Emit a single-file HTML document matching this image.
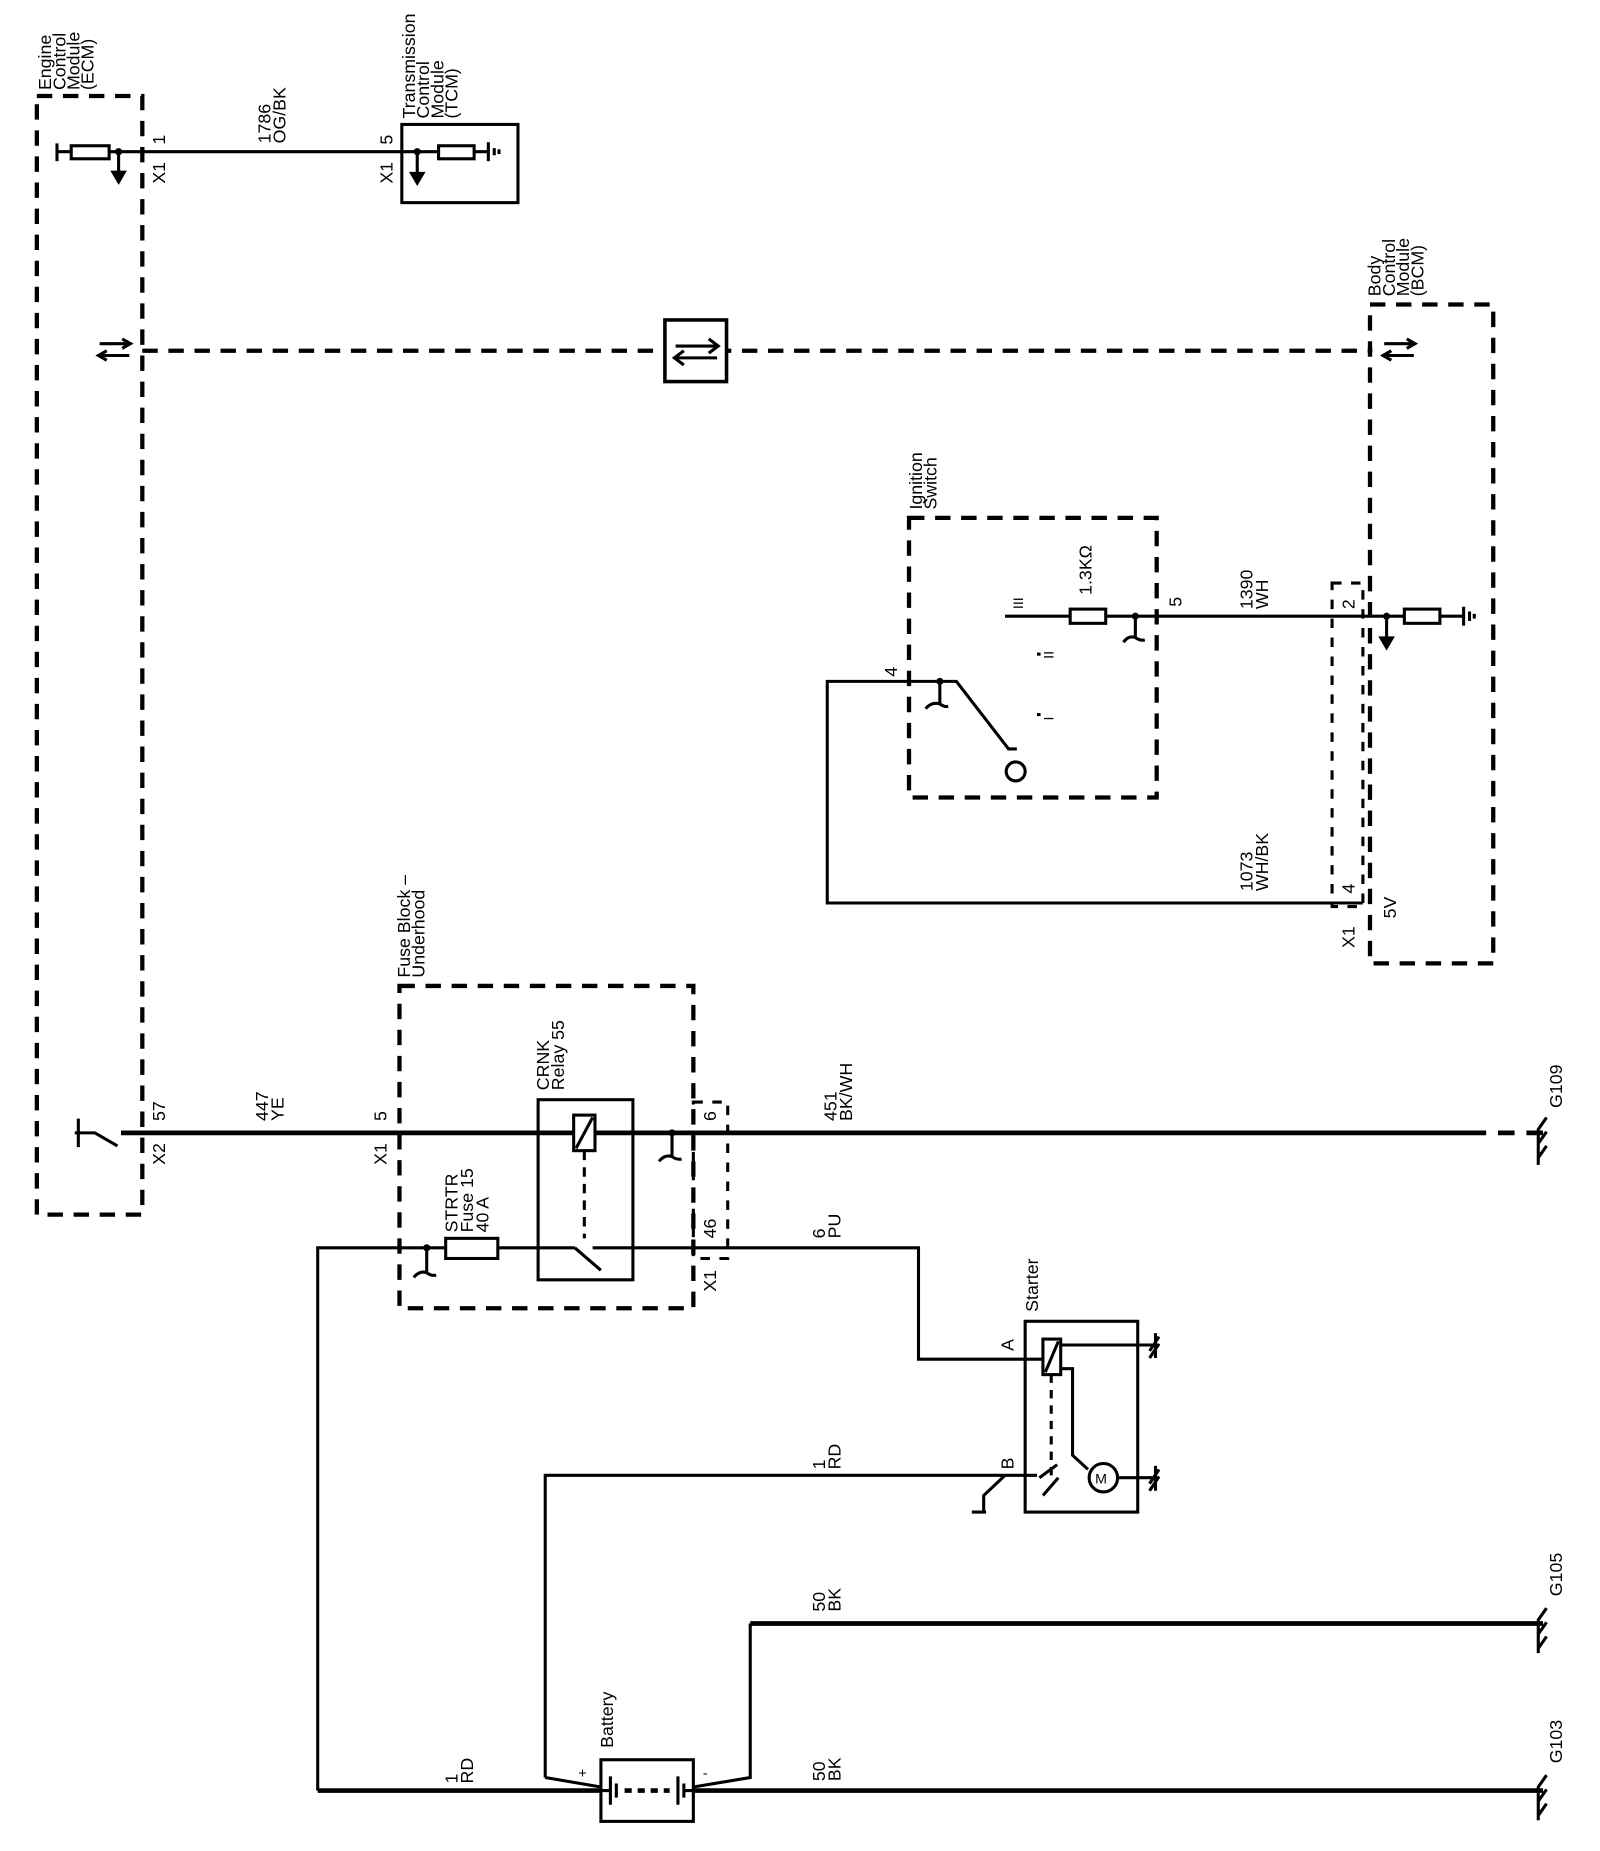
<!DOCTYPE html>
<html><head><meta charset="utf-8"><style>
html,body{margin:0;padding:0;background:#fff;}
svg{display:block;}
text{font-family:"Liberation Sans",Arial,sans-serif;font-size:15px;fill:#000;}
.w{stroke:#000;stroke-width:2.6;fill:none;}
.t{stroke:#000;stroke-width:4;fill:none;}
.d{stroke:#000;stroke-width:3.6;fill:none;stroke-dasharray:13 9;}
.ds{stroke:#000;stroke-width:2.6;fill:none;stroke-dasharray:8 8;}
.b{stroke:#000;stroke-width:2.6;fill:#fff;}
</style></head><body>
<svg width="1600" height="1851" viewBox="0 0 1350 1562" xmlns="http://www.w3.org/2000/svg">
<!-- ECM -->
<rect x="31" y="81" width="89" height="944" class="d"/>
<g>
<text transform="translate(43,76) rotate(-90)">Engine</text>
<text transform="translate(55,76) rotate(-90)">Control</text>
<text transform="translate(67,76) rotate(-90)">Module</text>
<text transform="translate(79,76) rotate(-90)">(ECM)</text>
</g>
<line x1="48" y1="128" x2="340" y2="128" class="w"/>
<line x1="48" y1="121" x2="48" y2="136" class="w"/>
<rect x="60" y="123" width="32" height="11" class="b"/>
<circle cx="100" cy="128" r="3"/>
<line x1="100" y1="128" x2="100" y2="145" class="w"/>
<polygon points="93,144 107,144 100,156"/>
<text transform="translate(139,122) rotate(-90)">1</text>
<text transform="translate(139,155) rotate(-90)">X1</text>
<text transform="translate(228,121) rotate(-90)">1786</text>
<text transform="translate(241,121) rotate(-90)">OG/BK</text>
<!-- TCM -->
<rect x="339" y="105" width="98" height="66" class="w"/>
<text transform="translate(350,100) rotate(-90)">Transmission</text>
<text transform="translate(362,100) rotate(-90)">Control</text>
<text transform="translate(374,100) rotate(-90)">Module</text>
<text transform="translate(386,100) rotate(-90)">(TCM)</text>
<line x1="339" y1="128" x2="412" y2="128" class="w"/>
<circle cx="352" cy="128" r="3"/>
<line x1="352" y1="128" x2="352" y2="146" class="w"/>
<polygon points="345,145 359,145 352,157"/>
<rect x="370" y="123" width="30" height="11" class="b"/>
<line x1="412" y1="120" x2="412" y2="136" class="w"/>
<line x1="417" y1="125" x2="417" y2="131" class="w"/>
<line x1="421" y1="126" x2="421" y2="130" class="w"/>
<text transform="translate(331,122) rotate(-90)">5</text>
<text transform="translate(331,155) rotate(-90)">X1</text>
<!-- serial data -->
<line x1="120" y1="296" x2="1158" y2="296" class="d"/>
<path d="M84 290 H109 M103 286 L110 290 L103 294" class="w"/>
<path d="M109 300 H84 M90 296 L83 300 L90 304" class="w"/>
<rect x="561" y="270" width="52" height="52" class="b" style="stroke-width:3"/>
<path d="M570 292 H605 M598 286 L606 292 L598 298" class="w"/>
<path d="M605 302 H570 M577 296 L569 302 L577 308" class="w"/>
<path d="M1168 290 H1193 M1187 286 L1194 290 L1187 294" class="w"/>
<path d="M1193 300 H1168 M1174 296 L1167 300 L1174 304" class="w"/>
<!-- BCM -->
<rect x="1156" y="257" width="104" height="556" class="d"/>
<text transform="translate(1165,250) rotate(-90)">Body</text>
<text transform="translate(1177,250) rotate(-90)">Control</text>
<text transform="translate(1189,250) rotate(-90)">Module</text>
<text transform="translate(1201,250) rotate(-90)">(BCM)</text>
<rect x="1124" y="492" width="26" height="273" class="ds"/>
<text transform="translate(1143,514) rotate(-90)">2</text>
<text transform="translate(1143,754) rotate(-90)">4</text>
<text transform="translate(1143,800) rotate(-90)">X1</text>
<text transform="translate(1178,775) rotate(-90)">5V</text>
<!-- Ignition switch -->
<rect x="767" y="437" width="209" height="236" class="d"/>
<text transform="translate(778,430) rotate(-90)">Ignition</text>
<text transform="translate(790,430) rotate(-90)">Switch</text>
<line x1="848" y1="520" x2="1235" y2="520" class="w"/>
<rect x="903" y="514" width="30" height="12" class="b"/>
<circle cx="958" cy="520" r="3"/>
<path d="M958 520 V538 M948 542 Q952 536 958 538 Q962 541 966 540" class="w"/>
<text transform="translate(863,514) rotate(-90)" style="font-size:12px">III</text>
<text transform="translate(889,556) rotate(-90)" style="font-size:12px">II</text>
<path d="M875 552 H878" class="w"/>
<text transform="translate(889,608) rotate(-90)" style="font-size:12px">I</text>
<path d="M875 603 H878" class="w"/>
<text transform="translate(921,502) rotate(-90)">1.3K&#937;</text>
<text transform="translate(997,512) rotate(-90)">5</text>
<text transform="translate(1057,514) rotate(-90)">1390</text>
<text transform="translate(1070,514) rotate(-90)">WH</text>
<circle cx="1170" cy="520" r="3"/>
<line x1="1170" y1="520" x2="1170" y2="538" class="w"/>
<polygon points="1163,537 1177,537 1170,549"/>
<rect x="1185" y="514" width="30" height="12" class="b"/>
<line x1="1235" y1="512" x2="1235" y2="528" class="w"/>
<line x1="1240" y1="516" x2="1240" y2="524" class="w"/>
<line x1="1244" y1="518" x2="1244" y2="522" class="w"/>
<!-- switch wire -->
<path d="M1150 762 H698 V575 H807 L851 632 H858" class="w"/>
<circle cx="793" cy="575" r="3"/>
<path d="M793 575 V595 M781 598 Q786 592 793 594 Q797 597 800 596" class="w"/>
<circle cx="857" cy="651" r="8" class="w"/>
<text transform="translate(757,571) rotate(-90)">4</text>
<text transform="translate(1057,752) rotate(-90)">1073</text>
<text transform="translate(1070,752) rotate(-90)">WH/BK</text>
<!-- fuse block -->
<rect x="337" y="832" width="248" height="272" class="d"/>
<text transform="translate(346,825) rotate(-90)">Fuse Block –</text>
<text transform="translate(358,825) rotate(-90)">Underhood</text>
<rect x="585" y="930" width="29" height="132" class="ds"/>
<line x1="102" y1="956" x2="1240" y2="956" class="t"/>
<line x1="1240" y1="956" x2="1302" y2="956" class="t" style="stroke-dasharray:14 10"/>
<path d="M66 944 V968 M63 956 H80 L99 967" class="w"/>
<text transform="translate(139,946) rotate(-90)">57</text>
<text transform="translate(139,983) rotate(-90)">X2</text>
<text transform="translate(226,946) rotate(-90)">447</text>
<text transform="translate(239,946) rotate(-90)">YE</text>
<text transform="translate(326,946) rotate(-90)">5</text>
<text transform="translate(326,983) rotate(-90)">X1</text>
<rect x="454" y="928" width="80" height="152" class="w"/>
<text transform="translate(463,920) rotate(-90)">CRNK</text>
<text transform="translate(476,920) rotate(-90)">Relay 55</text>
<rect x="484" y="941" width="18" height="30" class="b"/>
<line x1="486" y1="969" x2="500" y2="943" class="w"/>
<line x1="493" y1="971" x2="493" y2="1045" class="w" style="stroke-dasharray:8 6"/>
<circle cx="567" cy="956" r="3"/>
<path d="M567 956 V976 M556 980 Q561 974 567 976 Q571 979 575 978" class="w"/>
<text transform="translate(604,946) rotate(-90)">6</text>
<text transform="translate(604,1045) rotate(-90)">46</text>
<text transform="translate(604,1090) rotate(-90)">X1</text>
<text transform="translate(706,946) rotate(-90)">451</text>
<text transform="translate(719,946) rotate(-90)">BK/WH</text>
<!-- lower wire -->
<path d="M268 1511 V1053 H485 M485 1053 L507 1072 M500 1053 H775 V1147 H882" class="w"/>
<rect x="376" y="1045" width="44" height="17" class="b"/>
<circle cx="360" cy="1053" r="3"/>
<path d="M360 1053 V1074 M349 1078 Q354 1072 360 1074 Q364 1077 368 1076" class="w"/>
<text transform="translate(386,1040) rotate(-90)">STRTR</text>
<text transform="translate(399,1040) rotate(-90)">Fuse 15</text>
<text transform="translate(412,1040) rotate(-90)">40 A</text>
<text transform="translate(696,1045) rotate(-90)">6</text>
<text transform="translate(709,1045) rotate(-90)">PU</text>
<!-- starter -->
<rect x="865" y="1115" width="95" height="161" class="w"/>
<text transform="translate(876,1107) rotate(-90)">Starter</text>
<text transform="translate(855,1140) rotate(-90)">A</text>
<text transform="translate(855,1240) rotate(-90)">B</text>
<rect x="880" y="1130" width="15" height="30" class="b"/>
<line x1="882" y1="1158" x2="893" y2="1132" class="w"/>
<line x1="895" y1="1135" x2="975" y2="1135" class="w"/>
<path d="M895 1155 H905 V1228 L918 1240" class="w"/>
<line x1="887" y1="1160" x2="887" y2="1245" class="w" style="stroke-dasharray:7 6"/>
<circle cx="931" cy="1247" r="12" class="b"/>
<text x="924" y="1252" style="font-size:12px">M</text>
<line x1="943" y1="1247" x2="975" y2="1247" class="w"/>
<path d="M460 1500 V1245 H875 M877 1247 L892 1236 M880 1262 L893 1247" class="w"/>
<path d="M848 1245 L830 1262 V1276 M820 1276 H832" class="w"/>
<text transform="translate(696,1240) rotate(-90)">1</text>
<text transform="translate(709,1240) rotate(-90)">RD</text>
<!-- starter grounds -->
<path d="M975 1125 V1146 M970 1140 L978 1128 M970 1146 L978 1134" class="w"/>
<path d="M975 1237 V1258 M970 1252 L978 1240 M970 1258 L978 1246" class="w"/>
<!-- battery -->
<rect x="507" y="1485" width="78" height="52" class="w"/>
<text transform="translate(517,1475) rotate(-90)">Battery</text>
<text x="488" y="1500" style="font-size:12px">+</text>
<text x="593" y="1500" style="font-size:12px">-</text>
<line x1="268" y1="1511" x2="507" y2="1511" class="t"/>
<line x1="585" y1="1511" x2="1302" y2="1511" class="t"/>
<path d="M460 1500 L507 1508" class="w"/>
<path d="M633 1370 V1500 L585 1508" class="w"/>
<line x1="633" y1="1370" x2="1302" y2="1370" class="t"/>
<path d="M507 1511 H515 M515 1499 V1523 M520 1505 V1517 M572 1499 V1523 M577 1505 V1517 M577 1511 H585" class="w"/>
<line x1="527" y1="1511" x2="565" y2="1511" class="t" style="stroke-dasharray:6 5"/>
<text transform="translate(386,1505) rotate(-90)">1</text>
<text transform="translate(399,1505) rotate(-90)">RD</text>
<text transform="translate(696,1360) rotate(-90)">50</text>
<text transform="translate(709,1360) rotate(-90)">BK</text>
<text transform="translate(696,1503) rotate(-90)">50</text>
<text transform="translate(709,1503) rotate(-90)">BK</text>
<!-- chassis grounds -->
<g class="w">
<path d="M1305 943 L1298 953 V983 M1305 955 L1298 965 M1305 967 L1298 977"/>
<path d="M1305 1357 L1298 1367 V1395 M1305 1369 L1298 1379 M1305 1381 L1298 1391"/>
<path d="M1305 1498 L1298 1508 V1536 M1305 1510 L1298 1520 M1305 1522 L1298 1532"/>
</g>
<text transform="translate(1318,935) rotate(-90)">G109</text>
<text transform="translate(1318,1347) rotate(-90)">G105</text>
<text transform="translate(1318,1488) rotate(-90)">G103</text>
</svg>
</body></html>
